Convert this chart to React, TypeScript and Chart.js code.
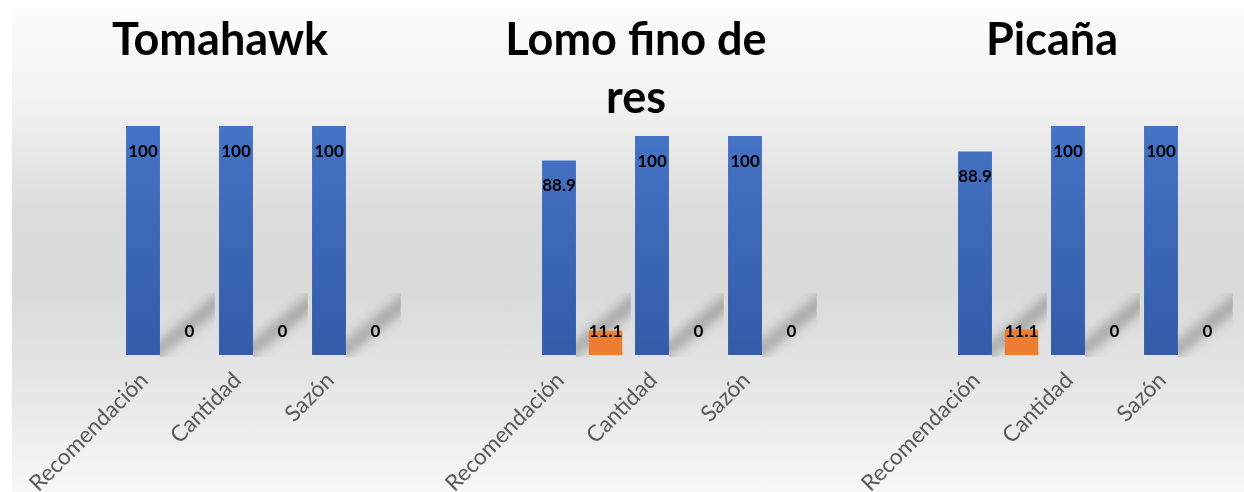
import React, { useEffect, useRef } from "react";
import { Chart, registerables } from "chart.js";

Chart.register(...registerables);

const categories = ["Recomendación", "Cantidad", "Sazón"];
const titleTomahawk = ["Tomahawk"];
const titleLomo = ["Lomo fino de", "res"];
const titlePicana = ["Picaña"];
const blueTomahawk = [100, 100, 100];
const orangeTomahawk = [0, 0, 0];
const blueLomo = [88.9, 100, 100];
const orangeLomo = [11.1, 0, 0];
const bluePicana = [88.9, 100, 100];
const orangePicana = [11.1, 0, 0];

const PANEL_W = 416;
const PANEL_H = 484;

const shadowPlugin = {
  id: "zeroShadow",
  beforeDatasetsDraw(chart: any) {
    const ctx = chart.ctx;
    const meta0 = chart.getDatasetMeta(0);
    const meta1 = chart.getDatasetMeta(1);
    const base = chart.scales.y.getPixelForValue(0);
    meta1.data.forEach((bar: any, i: number) => {
      const blue = meta0.data[i];
      const blueRight = blue.x + blue.width / 2;
      const slotRight = bar.x + (bar.x - blue.x) / 2;
      ctx.save();
      ctx.beginPath();
      ctx.rect(blueRight, base - 62, slotRight + 2 - blueRight, 64);
      ctx.clip();
      ctx.filter = "blur(6px)";
      ctx.strokeStyle = "rgba(0,0,0,0.28)";
      ctx.lineWidth = 12;
      const x0 = blueRight + 2, y0 = base - 8, x1 = slotRight + 2, y1 = base - 50;
      const dx = x1 - x0, dy = y1 - y0;
      ctx.beginPath();
      ctx.moveTo(x0 - dx * 0.6, y0 - dy * 0.6);
      ctx.lineTo(x1 + dx * 0.6, y1 + dy * 0.6);
      ctx.stroke();
      ctx.restore();
    });
  },
};

const labelPlugin = {
  id: "valueLabels",
  afterDatasetsDraw(chart: any) {
    const ctx = chart.ctx;
    const base = chart.scales.y.getPixelForValue(0);
    ctx.save();
    ctx.font = "bold 17px Lato";
    ctx.fillStyle = "#000000";
    ctx.textAlign = "center";
    ctx.textBaseline = "middle";
    chart.data.datasets.forEach((ds: any, di: number) => {
      const meta = chart.getDatasetMeta(di);
      meta.data.forEach((bar: any, i: number) => {
        const v = ds.data[i];
        const y = Math.min(bar.y + 25, base - 23);
        ctx.fillText(String(v), bar.x, y);
      });
    });
    ctx.restore();
  },
};

function blueGradient(c: any) {
  const ca = c.chart.chartArea;
  if (!ca) return "#4472c4";
  const g = c.chart.ctx.createLinearGradient(0, ca.top, 0, ca.bottom);
  g.addColorStop(0, "#4573c5");
  g.addColorStop(1, "#335ca8");
  return g;
}

function Panel(props: { title: string[]; blue: number[]; orange: number[]; left: number; padBottom: number }) {
  const ref = useRef<HTMLCanvasElement>(null);
  useEffect(() => {
    if (!ref.current) return;
    const chart = new Chart(ref.current, {
      type: "bar",
      data: {
        labels: categories,
        datasets: [
          { label: "Serie 1", data: props.blue, backgroundColor: blueGradient, categoryPercentage: 1, barPercentage: 0.73 },
          { label: "Serie 2", data: props.orange, backgroundColor: "#ed7d31", categoryPercentage: 1, barPercentage: 0.72 },
        ],
      },
      options: {
        responsive: false,
        animation: false,
        layout: { padding: 0 },
        plugins: {
          legend: { display: false },
          tooltip: { enabled: false },
          title: {
            display: true,
            text: props.title,
            color: "#000000",
            font: { family: "Lato", weight: "bold", size: 45, lineHeight: 1.29 },
            padding: { top: 3, bottom: props.padBottom },
          },
        },
        scales: {
          x: {
            grid: { display: false },
            border: { display: false },
            ticks: {
              color: "#595959",
              font: { family: "Lato", size: 22.5 },
              minRotation: 45,
              maxRotation: 45,
              autoSkip: false,
              labelOffset: -22,
              padding: 4,
            },
            afterFit: (scale: any) => {
              scale.height = 137;
            },
          },
          y: {
            display: true,
            position: "left",
            min: 0,
            max: 100,
            grid: { display: false },
            border: { display: false },
            ticks: { display: false },
            afterFit: (scale: any) => {
              scale.width = 107.75;
            },
          },
          yRight: {
            type: "linear",
            display: true,
            position: "right",
            min: 0,
            max: 100,
            grid: { display: false },
            border: { display: false },
            ticks: { display: false },
            afterFit: (scale: any) => {
              scale.width = 29.25;
            },
          },
        },
      },
      plugins: [shadowPlugin, labelPlugin],
    });
    return () => chart.destroy();
  }, []);
  return (
    <canvas
      ref={ref}
      width={PANEL_W}
      height={PANEL_H}
      style={{ position: "absolute", left: props.left, top: 0, width: PANEL_W, height: PANEL_H }}
    />
  );
}

export default function App() {
  return (
    <div style={{ position: "fixed", left: 0, top: 0, width: 1244, height: 492, overflow: "hidden", background: "#ffffff" }}>
      <div
        style={{
          position: "absolute",
          left: 12,
          top: 8,
          width: 1232,
          height: 484,
          overflow: "hidden",
          background:
            "linear-gradient(to bottom, #fcfcfc 0%, #f3f3f3 18%, #dcdcdc 42%, #d9d9d9 58%, #e6e6e6 78%, #f7f7f7 100%)",
        }}
      >
        <Panel title={titleTomahawk} blue={blueTomahawk} orange={orangeTomahawk} left={0} padBottom={57} />
        <Panel title={titleLomo} blue={blueLomo} orange={orangeLomo} left={416} padBottom={9} />
        <Panel title={titlePicana} blue={bluePicana} orange={orangePicana} left={832} padBottom={57} />
      </div>
    </div>
  );
}
